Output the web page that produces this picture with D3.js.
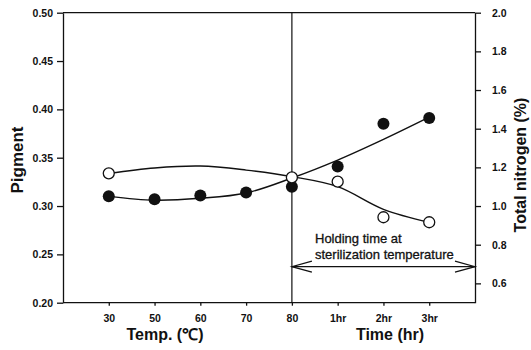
<!DOCTYPE html>
<html>
<head>
<meta charset="utf-8">
<script src="https://cdn.jsdelivr.net/npm/d3@7"></script>
<style>
  body { margin: 0; background: #fff; }
  svg text { font-family: "Liberation Sans", Arial, sans-serif; fill: #111; }
</style>
</head>
<body>
<div id="chart"></div>
<script>
// categories along the bottom axis
const categories = ["30", "50", "60", "70", "80", "1hr", "2hr", "3hr"];

// filled circles: pigment (left axis)
const pigmentPoints = [0.310, 0.307, 0.311, 0.314, 0.320, 0.341, 0.385, 0.391];
// fitted line through pigment
const pigmentFit = [0.310, 0.306, 0.308, 0.3135, 0.329, 0.3476, 0.369, 0.392];

// open circles: total nitrogen (right axis), measured only at some categories
const nitrogenCats = ["30", "80", "1hr", "2hr", "3hr"];
const nitrogenPoints = [1.169, 1.148, 1.126, 0.942, 0.916];
// fitted line through nitrogen
const nitrogenFit = [1.169, 1.197, 1.207, 1.186, 1.152, 1.100, 0.983, 0.916];

const leftTicks = [0.20, 0.25, 0.30, 0.35, 0.40, 0.45, 0.50];
const rightTicks = [0.6, 0.8, 1.0, 1.2, 1.4, 1.6, 1.8, 2.0];

const W = 531, H = 350;
const plot = { left: 63, right: 475, top: 12.7, bottom: 302.7 };

const svg = d3.select("#chart").append("svg")
  .attr("width", W)
  .attr("height", H);

const x = d3.scalePoint()
  .domain(categories)
  .range([plot.left, plot.right])
  .padding(1);

const yL = d3.scaleLinear().domain([0.2, 0.5]).range([plot.bottom, plot.top]);
const yR = d3.scaleLinear().domain([0.5, 2.0]).range([plot.bottom, plot.top]);

// frame: top and bottom lines, divider at 80
svg.append("line")
  .attr("x1", plot.left).attr("x2", plot.right)
  .attr("y1", plot.top).attr("y2", plot.top)
  .attr("stroke", "#111").attr("stroke-width", 1.3);
svg.append("line")
  .attr("x1", plot.left).attr("x2", plot.right)
  .attr("y1", plot.bottom).attr("y2", plot.bottom)
  .attr("stroke", "#111").attr("stroke-width", 1.3);
svg.append("line")
  .attr("x1", x("80")).attr("x2", x("80"))
  .attr("y1", plot.top).attr("y2", plot.bottom)
  .attr("stroke", "#111").attr("stroke-width", 1.2);

// axes
const leftAxis = svg.append("g")
  .attr("transform", `translate(${plot.left},0)`)
  .call(d3.axisLeft(yL).tickValues(leftTicks).tickFormat(d3.format(".2f"))
    .tickSize(6).tickSizeOuter(0).tickPadding(4));

const rightAxis = svg.append("g")
  .attr("transform", `translate(${plot.right},0)`)
  .call(d3.axisRight(yR).tickValues(rightTicks).tickFormat(d3.format(".1f"))
    .tickSize(6).tickSizeOuter(0).tickPadding(11));

const bottomAxis = svg.append("g")
  .attr("transform", `translate(0,${plot.bottom})`)
  .call(d3.axisBottom(x).tickSize(3).tickSizeOuter(0).tickPadding(9));
bottomAxis.select(".domain").remove();

[leftAxis, rightAxis, bottomAxis].forEach(g => {
  g.selectAll("path, line").attr("stroke", "#111").attr("stroke-width", 1.3);
  g.selectAll("text")
    .attr("font-family", "Liberation Sans, Arial, sans-serif")
    .attr("font-size", 10.5)
    .attr("font-weight", "bold")
    .attr("fill", "#111");
});

// fitted curves
const fitLine = scale => d3.line()
  .x((d, i) => x(categories[i]))
  .y(d => scale(d))
  .curve(d3.curveCatmullRom);

svg.append("path")
  .datum(pigmentFit)
  .attr("d", fitLine(yL))
  .attr("fill", "none")
  .attr("stroke", "#111")
  .attr("stroke-width", 1.4);

svg.append("path")
  .datum(nitrogenFit)
  .attr("d", fitLine(yR))
  .attr("fill", "none")
  .attr("stroke", "#111")
  .attr("stroke-width", 1.4);

// points
svg.append("g").selectAll("circle")
  .data(pigmentPoints)
  .join("circle")
  .attr("cx", (d, i) => x(categories[i]))
  .attr("cy", d => yL(d))
  .attr("r", 6)
  .attr("fill", "#111");

svg.append("g").selectAll("circle")
  .data(nitrogenPoints)
  .join("circle")
  .attr("cx", (d, i) => x(nitrogenCats[i]))
  .attr("cy", d => yR(d))
  .attr("r", 5.5)
  .attr("fill", "#fff")
  .attr("stroke", "#111")
  .attr("stroke-width", 1.3);

// annotation
svg.append("text")
  .attr("x", 315).attr("y", 243)
  .attr("font-size", 13)
  .attr("stroke", "#111").attr("stroke-width", 0.3)
  .text("Holding time at");
svg.append("text")
  .attr("x", 315).attr("y", 259)
  .attr("font-size", 13)
  .attr("stroke", "#111").attr("stroke-width", 0.3)
  .text("sterilization temperature");

const arrowY = 266.7;
const ax1 = x("80"), ax2 = plot.right;
svg.append("line")
  .attr("x1", ax1).attr("x2", ax2)
  .attr("y1", arrowY).attr("y2", arrowY)
  .attr("stroke", "#111").attr("stroke-width", 1.2);
svg.append("path")
  .attr("d", `M${ax1 + 20},${arrowY - 5.5}L${ax1},${arrowY}L${ax1 + 20},${arrowY + 5.5}`)
  .attr("fill", "none").attr("stroke", "#111").attr("stroke-width", 1.2);
svg.append("path")
  .attr("d", `M${ax2 - 20},${arrowY - 5.5}L${ax2},${arrowY}L${ax2 - 20},${arrowY + 5.5}`)
  .attr("fill", "none").attr("stroke", "#111").attr("stroke-width", 1.2);

// axis titles
svg.append("text")
  .attr("transform", "translate(23,160) rotate(-90)")
  .attr("text-anchor", "middle")
  .attr("font-size", 17)
  .attr("font-weight", "bold")
  .text("Pigment");

svg.append("text")
  .attr("transform", "translate(526,165) rotate(-90)")
  .attr("text-anchor", "middle")
  .attr("font-size", 16)
  .attr("font-weight", "bold")
  .text("Total nitrogen (%)");

svg.append("text")
  .attr("x", 165).attr("y", 340)
  .attr("text-anchor", "middle")
  .attr("font-size", 16)
  .attr("font-weight", "bold")
  .text("Temp. (\u2103)");

svg.append("text")
  .attr("x", 390).attr("y", 340)
  .attr("text-anchor", "middle")
  .attr("font-size", 16)
  .attr("font-weight", "bold")
  .text("Time (hr)");
</script>
</body>
</html>
